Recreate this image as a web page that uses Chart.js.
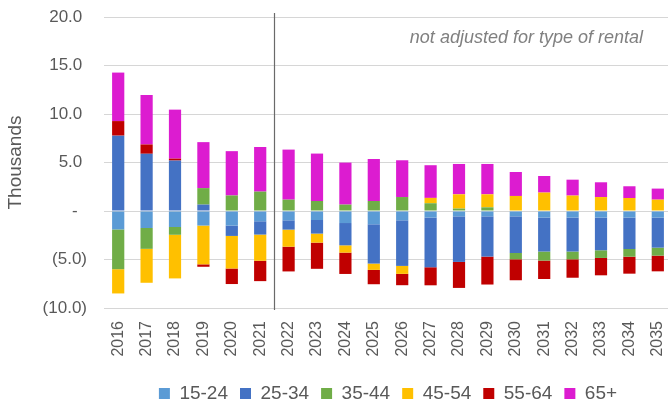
<!DOCTYPE html>
<html>
<head>
<meta charset="utf-8">
<script src="https://cdn.jsdelivr.net/npm/chart.js@4.4.1/dist/chart.umd.min.js"></script>
<style>
  html, body { margin: 0; padding: 0; background: #fff; }
  #wrap { width: 668px; height: 403px; overflow: hidden; }
  canvas { display: block; }
</style>
</head>
<body>
<div id="wrap"><canvas id="rentalChart" width="677" height="413"></canvas></div>
<script>
// Household change by age of reference person (thousands)
const years = ['2016', '2017', '2018', '2019', '2020', '2021', '2022', '2023', '2024', '2025',
  '2026', '2027', '2028', '2029', '2030', '2031', '2032', '2033', '2034', '2035'];

const age15to24 = [-1.90, -1.75, -1.65, -1.50, -1.50, -1.06, -0.96, -0.93, -1.24, -1.37,
  -0.96, -0.68, -0.55, -0.55, -0.55, -0.68, -0.68, -0.68, -0.68, -0.68];
const age25to34 = [7.77, 5.90, 5.20, 0.66, -1.07, -1.37, -0.96, -1.40, -2.30, -4.05,
  -4.70, -5.12, -4.70, -4.15, -3.78, -3.50, -3.50, -3.37, -3.24, -3.10];
const age35to44 = [-4.10, -2.15, -0.80, 1.70, 1.60, 2.00, 1.17, 1.03, 0.66, 1.03,
  1.44, 0.80, 0.25, 0.38, -0.65, -0.93, -0.80, -0.79, -0.79, -0.82];
const age45to54 = [-2.50, -3.50, -4.50, -4.00, -3.36, -2.70, -1.76, -0.93, -0.75, -0.65,
  -0.82, 0.55, 1.47, 1.34, 1.55, 1.90, 1.59, 1.44, 1.34, 1.17];
const age55to64 = [1.50, 0.96, 0.20, -0.25, -1.60, -2.10, -2.55, -2.70, -2.20, -1.48,
  -1.17, -1.86, -2.68, -2.88, -2.16, -1.90, -1.90, -1.79, -1.75, -1.62];
const age65plus = [5.00, 5.10, 5.05, 4.74, 4.57, 4.60, 5.16, 4.89, 4.33, 4.33,
  3.79, 3.37, 3.13, 3.13, 2.47, 1.71, 1.64, 1.52, 1.21, 1.14];

const seriesLabels = ['15-24', '25-34', '35-44', '45-54', '55-64', '65+'];
const yTicks = [-10, -5, 0, 5, 10, 15, 20];
const noteText = 'not adjusted for type of rental';
const lastActualIndex = 5; // 2021, the divider sits after it

const colors = ['#5B9BD5', '#4472C4', '#70AD47', '#FFC000', '#C00000', '#DC1CD0'];
const greyText = '#595959';

Chart.defaults.font.family = '"Liberation Sans", Arial, sans-serif';

// divider line between actuals and projections, plus the note
const dividerPlugin = {
  id: 'divider',
  afterDatasetsDraw(chart) {
    const { ctx, chartArea, scales: { x } } = chart;
    const xPos = Math.round((x.getPixelForValue(lastActualIndex) + x.getPixelForValue(lastActualIndex + 1)) / 2) + 0.5;
    ctx.save();
    ctx.strokeStyle = '#6a6a6a';
    ctx.lineWidth = 1.2;
    ctx.beginPath();
    ctx.moveTo(xPos, chartArea.top - 4);
    ctx.lineTo(xPos, chartArea.bottom + 2);
    ctx.stroke();

    ctx.font = 'italic 18px "Liberation Sans", Arial, sans-serif';
    ctx.fillStyle = '#808080';
    ctx.textAlign = 'right';
    ctx.textBaseline = 'alphabetic';
    ctx.fillText(noteText, chartArea.right - 29, chartArea.top + 26);
    ctx.restore();
  }
};

const allSeries = [age15to24, age25to34, age35to44, age45to54, age55to64, age65plus];

const ctx = document.getElementById('rentalChart').getContext('2d');
new Chart(ctx, {
  type: 'bar',
  data: {
    labels: years,
    datasets: allSeries.map((values, i) => ({
      label: seriesLabels[i],
      data: values,
      backgroundColor: colors[i],
      borderWidth: 0,
      barPercentage: 0.43,
      categoryPercentage: 1
    }))
  },
  options: {
    responsive: false,
    animation: false,
    layout: {
      padding: { top: 17, left: 0, right: 0, bottom: 0 }
    },
    scales: {
      x: {
        stacked: true,
        border: { display: false },
        grid: {
          display: true,
          drawOnChartArea: false,
          drawTicks: true,
          tickLength: 13,
          tickColor: 'rgba(0,0,0,0)'
        },
        ticks: {
          color: greyText,
          font: { size: 16 },
          minRotation: 90,
          maxRotation: 90,
          autoSkip: false,
          padding: 0
        },
        afterFit: (scale) => { scale.height = 64; }
      },
      y: {
        stacked: true,
        min: -10,
        max: 20,
        border: { display: false },
        grid: {
          color: '#d6d6d6',
          lineWidth: 1,
          drawTicks: true,
          tickLength: 17,
          tickColor: 'rgba(0,0,0,0)'
        },
        afterBuildTicks: (scale) => {
          scale.ticks = yTicks.map(v => ({ value: v }));
        },
        ticks: {
          color: greyText,
          font: { size: 17 },
          padding: 0,
          callback: (v) => {
            if (v === 0) return '-  ';
            if (v < 0) return '(' + Math.abs(v).toFixed(1) + ')';
            return v.toFixed(1) + ' ';
          }
        },
        title: {
          display: true,
          text: 'Thousands',
          color: greyText,
          font: { size: 19 },
          padding: { top: 4, bottom: 15 }
        },
        afterFit: (scale) => { scale.width = 104; }
      }
    },
    plugins: {
      legend: {
        position: 'bottom',
        fullSize: false,
        labels: {
          color: greyText,
          font: { size: 19 },
          boxWidth: 11,
          boxHeight: 11,
          padding: 12
        }
      },
      tooltip: { enabled: false }
    }
  },
  plugins: [dividerPlugin]
});
</script>
</body>
</html>
